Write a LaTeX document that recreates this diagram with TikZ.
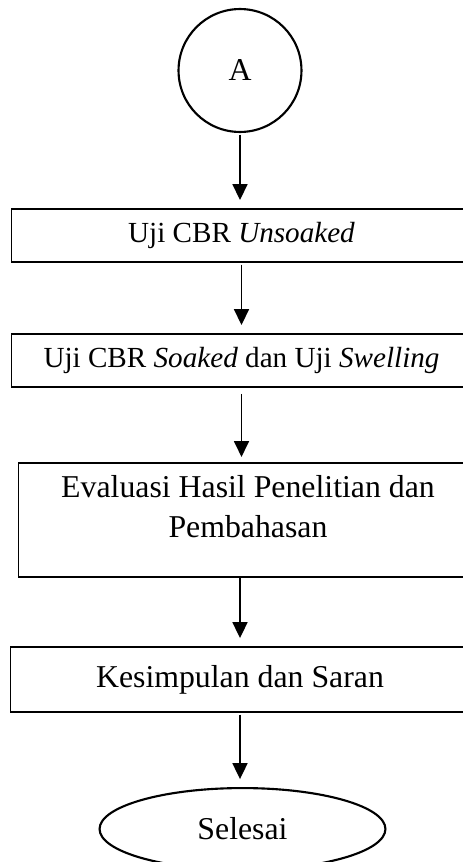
\documentclass[tikz,border=0pt]{standalone}
\usepackage{fontspec}
\setmainfont{Liberation Serif}
\usetikzlibrary{shapes,arrows,arrows.meta,positioning,calc}

\begin{document}
\begin{tikzpicture}[>={Triangle[length=6pt,width=5.7pt]},
x=0.3774pt, y=-0.3774pt, semithick]

\tikzstyle{every node}=[outer sep=0pt, text=black]
\tikzstyle{proses}=[rectangle, draw, line width=0.5pt, minimum width=173.4pt,
minimum height=20pt, inner sep=0pt, font=\fontsize{11}{13}\selectfont]
\tikzstyle{konektor}=[circle, draw, line width=0.8pt, minimum size=46.4pt,
inner sep=0pt, font=\fontsize{12}{14}\selectfont]
\tikzstyle{terminal}=[ellipse, draw, line width=0.8pt, minimum width=107.9pt,
minimum height=30.9pt, inner sep=0pt, font=\fontsize{12}{14}\selectfont]
\tikzstyle{panah}=[->, line width=0.5pt, shorten <=1pt, shorten >=3.4pt]

\useasboundingbox (0,0) rectangle (463,862);
\clip (0,0) rectangle (463,862);

%connector
\node[konektor] (mulai) at (240,70.5) {A};

%steps
\node[proses] (unsoaked) at (241.5,235.5) {Uji CBR \textit{Unsoaked}};
\node[proses] (soaked) at (241.5,360.5) {Uji CBR \textit{Soaked} dan Uji \textit{Swelling}};
\node[proses, minimum height=43pt, align=center,
font=\fontsize{12}{15.1}\selectfont] (evaluasi) at (248,520)
{Evaluasi Hasil Penelitian dan\\Pembahasan\\[-5pt]};
\node[proses, minimum height=24.5pt, font=\fontsize{12}{14}\selectfont]
(kesimpulan) at (240,679.5) {Kesimpulan dan Saran};

%end
\node[terminal] (selesai) at (242.5,829) {Selesai};

\draw[panah] (mulai.south) -- (mulai.south |- unsoaked.north);
\draw[panah] (unsoaked.south) -- (unsoaked.south |- soaked.north);
\draw[panah, shorten <=2.6pt, shorten >=2.3pt] (soaked.south) -- (soaked.south |- evaluasi.north);
\draw[panah, shorten <=0pt] (kesimpulan.north |- evaluasi.south) -- (kesimpulan.north);
\draw[panah] (kesimpulan.south) -- (kesimpulan.south |- selesai.north);

\end{tikzpicture}
\end{document}
